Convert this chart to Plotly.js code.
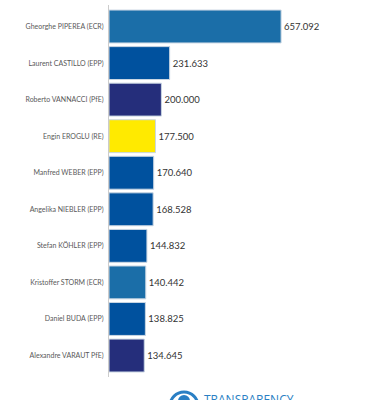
<!DOCTYPE html>
<html>
<head>
<meta charset="utf-8">
<script src="https://cdn.plot.ly/plotly-3.0.1.min.js"></script>
<style>html,body{margin:0;padding:0;background:#fff;}#chart{width:388px;height:400px;}</style>
</head>
<body>
<div id="chart"></div>
<script>
var names = ["Gheorghe PIPEREA (ECR)", "Laurent CASTILLO (EPP)", "Roberto VANNACCI (PfE)", "Engin EROGLU (RE)", "Manfred WEBER (EPP)", "Angelika NIEBLER (EPP)", "Stefan KÖHLER (EPP)", "Kristoffer STORM (ECR)", "Daniel BUDA (EPP)", "Alexandre VARAUT PfE)"];
var values = [657092, 231633, 200000, 177500, 170640, 168528, 144832, 140442, 138825, 134645];
var groups = ["ECR", "EPP", "PfE", "RE", "EPP", "EPP", "EPP", "ECR", "EPP", "PfE"];
var groupColors = {ECR: "#1b6ea8", EPP: "#00519e", PfE: "#252e7b", RE: "#ffea00"};

var W = 388, H = 400;
var mL = 109, mR = 20, mT = 5, mB = 23;
function px2x(px){ return (px - mL) / (W - mL - mR); }
function py2y(py){ return (H - mB - py) / (H - mT - mB); }

var trace = {
  type: "bar",
  orientation: "h",
  y: names,
  x: values,
  marker: {color: groups.map(function(g){ return groupColors[g]; }), line: {color: "#c9d6e3", width: 1}},
  texttemplate: "%{x:,.0f}",
  textposition: "outside",
  cliponaxis: false,
  textfont: {family: "Lato, sans-serif", size: 9.5, color: "#333333"},
  hoverinfo: "none"
};

var layout = {
  width: W, height: H,
  margin: {l: mL, r: mR, t: mT, b: mB, pad: 0},
  paper_bgcolor: "#ffffff",
  plot_bgcolor: "#ffffff",
  separators: ",.",
  showlegend: false,
  bargap: 0.1,
  xaxis: {range: [0, 989000], visible: false, fixedrange: true},
  yaxis: {
    range: [9.587, -0.588],
    showline: true, linecolor: "#cccccc", linewidth: 1,
    showgrid: false, zeroline: false, ticks: "",
    ticklabelstandoff: 3,
    tickfont: {family: "Lato, sans-serif", size: 7, color: "#595959"},
    fixedrange: true
  },
  shapes: [
    {type: "circle", xref: "paper", yref: "paper", x0: px2x(170), x1: px2x(198), y0: py2y(392), y1: py2y(420), line: {color: "#2a7fc4", width: 3}, fillcolor: "#ffffff", layer: "above"},
    {type: "circle", xref: "paper", yref: "paper", x0: px2x(179), x1: px2x(189), y0: py2y(396), y1: py2y(406), line: {color: "#2a7fc4", width: 2}, fillcolor: "#2a7fc4", layer: "above"}
  ],
  annotations: [
    {xref: "paper", yref: "paper", x: px2x(202), y: py2y(389), xanchor: "left", yanchor: "top", showarrow: false, text: "TRANSPARENCY", font: {family: "Open Sans, sans-serif", size: 12, color: "#2a7fc4"}}
  ]
};

Plotly.newPlot("chart", [trace], layout, {displayModeBar: false, staticPlot: true});
</script>
</body>
</html>
